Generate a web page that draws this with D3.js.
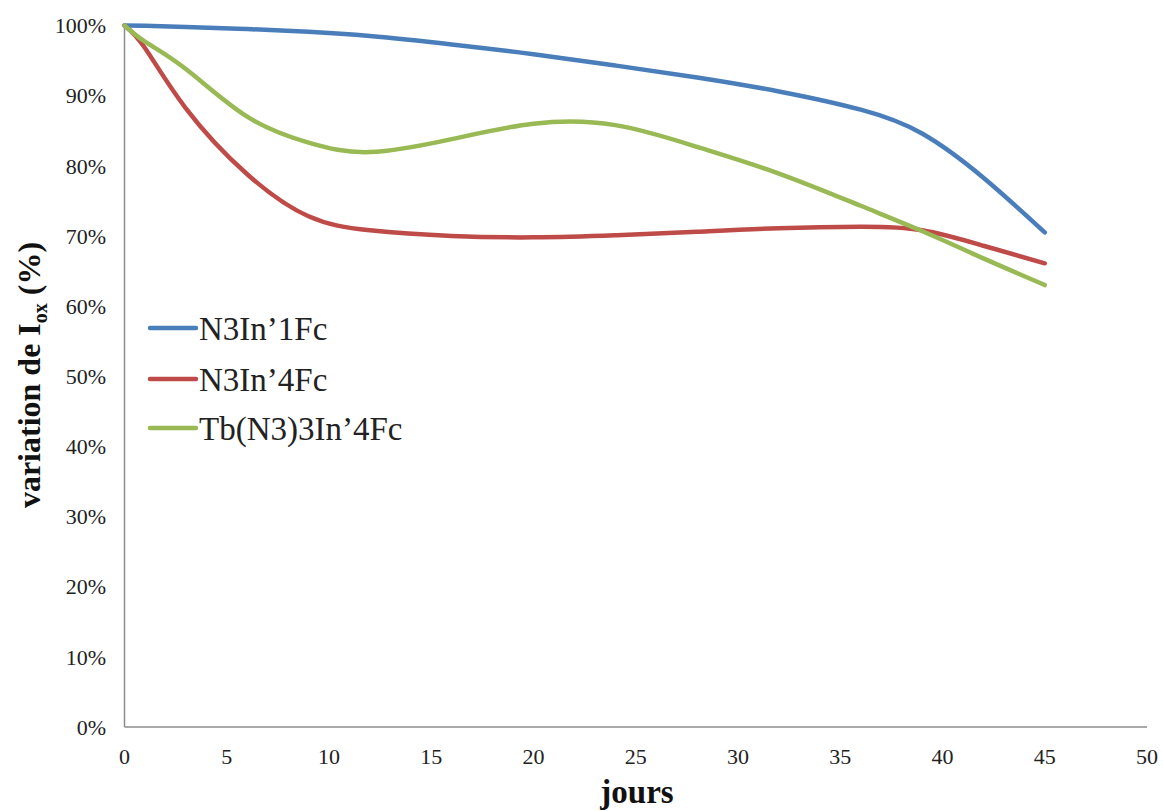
<!DOCTYPE html>
<html><head><meta charset="utf-8">
<script src="https://cdn.jsdelivr.net/npm/d3@7"></script>
<style>body{margin:0;background:#fff}svg{display:block}</style>
</head><body>
<script>
const days = [0, 1, 3, 6, 9, 12, 16, 20, 24, 28, 32, 36, 39, 42, 45];
const blueVals  = [100, 99.95, 99.8, 99.5, 99.1, 98.5, 97.3, 95.9, 94.3, 92.6, 90.6, 88.0, 84.6, 78.3, 70.5];
const redVals   = [100, 96.8, 88.2, 78.8, 72.8, 70.8, 70.0, 69.8, 70.1, 70.6, 71.1, 71.3, 70.8, 68.6, 66.1];
const greenVals = [100, 97.7, 93.8, 87.0, 83.3, 81.95, 83.8, 86.0, 85.8, 82.7, 78.9, 74.3, 70.7, 66.8, 63.0];
const seriesNames = ["N3In\u20191Fc", "N3In\u20194Fc", "Tb(N3)3In\u20194Fc"];
const xTicks = [0, 5, 10, 15, 20, 25, 30, 35, 40, 45, 50];
const yTicks = [0, 10, 20, 30, 40, 50, 60, 70, 80, 90, 100];
const colors = ["#4A7EBB", "#BE4B48", "#98B954"];

const W = 1163, H = 811;
const svg = d3.select("body").append("svg").attr("width", W).attr("height", H);
const x = d3.scaleLinear().domain([0, 50]).range([124.5, 1147]);
const y = d3.scaleLinear().domain([0, 100]).range([727, 25.5]);
const font = "'Liberation Serif','Times New Roman',serif";

// axes
svg.append("line").attr("x1", x(0)).attr("x2", x(0)).attr("y1", y(0)).attr("y2", y(100))
  .attr("stroke", "#8c8c8c").attr("stroke-width", 1.5);
svg.append("line").attr("x1", x(0)).attr("x2", x(50)).attr("y1", y(0)).attr("y2", y(0))
  .attr("stroke", "#8c8c8c").attr("stroke-width", 1.5);

svg.selectAll(".yt").data(yTicks).enter().append("text")
  .attr("x", 106).attr("y", d => y(d)).attr("dy", "0.35em")
  .attr("text-anchor", "end").attr("font-family", font).attr("font-size", 22).attr("fill", "#222")
  .text(d => d + "%");
svg.selectAll(".xt").data(xTicks).enter().append("text")
  .attr("x", d => x(d)).attr("y", 764)
  .attr("text-anchor", "middle").attr("font-family", font).attr("font-size", 22).attr("fill", "#222")
  .text(d => d);

// titles
svg.append("text").attr("x", 637).attr("y", 803).attr("text-anchor", "middle")
  .attr("font-family", font).attr("font-size", 33).attr("font-weight", "bold").attr("fill", "#111")
  .text("jours");
const yt = svg.append("text").attr("transform", "translate(40,375) rotate(-90)")
  .attr("text-anchor", "middle").attr("font-family", font).attr("font-size", 32)
  .attr("font-weight", "bold").attr("fill", "#111");
yt.append("tspan").text("variation de I");
yt.append("tspan").attr("font-size", 20).attr("dy", 7).text("ox");
yt.append("tspan").attr("dy", -7).text(" (%)");

// lines
const allVals = [blueVals, redVals, greenVals];
const line = d3.line().x((d, i) => x(days[i])).y(d => y(d)).curve(d3.curveNatural);
allVals.forEach((vals, k) => {
  svg.append("path").datum(vals).attr("d", line).attr("fill", "none")
    .attr("stroke", colors[k]).attr("stroke-width", 4.5).attr("stroke-linecap", "round")
    .attr("stroke-linejoin", "round");
});

// legend
const legY = [328, 379, 428];
seriesNames.forEach((n, k) => {
  svg.append("line").attr("x1", 150).attr("x2", 196).attr("y1", legY[k]).attr("y2", legY[k])
    .attr("stroke", colors[k]).attr("stroke-width", 4.5).attr("stroke-linecap", "round");
  svg.append("text").attr("x", 199).attr("y", legY[k]).attr("dy", "0.35em")
    .attr("font-family", font).attr("font-size", 33).attr("fill", "#222").text(n);
});
</script>
</body></html>
